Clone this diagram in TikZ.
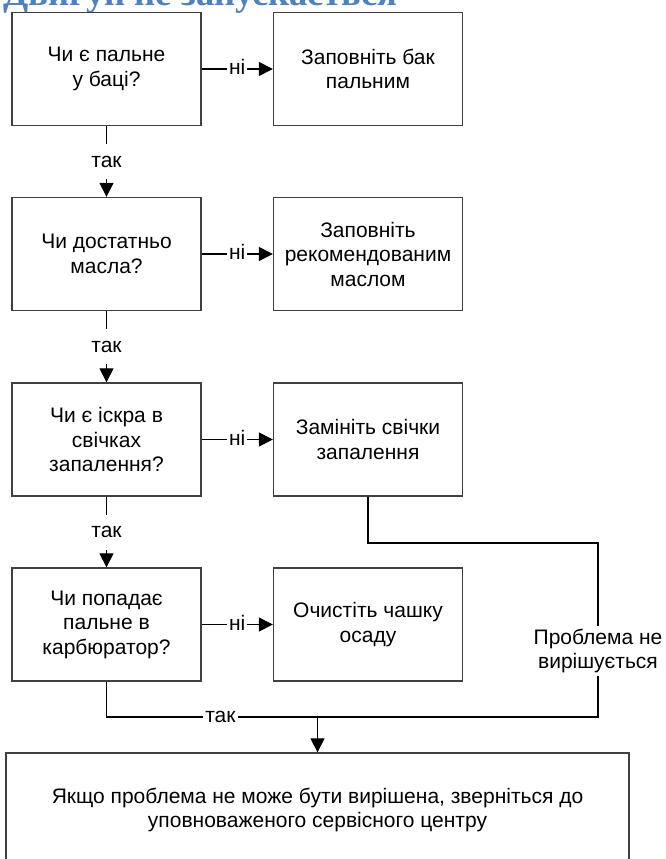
\documentclass[tikz,border=0pt]{standalone}
\usepackage{fontspec}
\usepackage{graphicx}
\setmainfont{Liberation Sans}
\newfontfamily\titlefont{Liberation Serif}
\usetikzlibrary{arrows.meta}
\definecolor{titleblue}{HTML}{4F81BD}
\definecolor{boxline}{HTML}{404040}
\begin{document}
\begin{tikzpicture}[x=1pt,y=-1pt,
  box/.style={draw=boxline, line width=1.3pt, minimum width=189pt, minimum height=113pt,
    align=center, inner sep=0pt, font=\fontsize{21}{24.5}\selectfont},
  conn/.style={draw=black, line width=1.1pt},
  arr/.style={conn, -{Triangle[length=14pt,width=14pt]}},
  lbl/.style={fill=white, font=\fontsize{21}{24.5}\selectfont, inner xsep=2pt, inner ysep=8pt,
    text height=15pt, text depth=4pt},
  lblml/.style={fill=white, font=\fontsize{21}{24.5}\selectfont, inner sep=3pt, align=center}
]
\useasboundingbox (0,0) rectangle (665,859);
\clip (0,0) rectangle (665,859);
\fill[white] (0,0) rectangle (665,859);

\node[anchor=base west, inner sep=0pt, text=titleblue] (title) at (3,5.5)
  {\resizebox{394pt}{!}{\titlefont\bfseries Двигун не запускається}};

\node[box] (q1) at (106.5,69) {Чи є пальне\\у баці?};
\node[box] (a1) at (368,69) {Заповніть бак\\пальним};
\node[box] (q2) at (106.5,254) {Чи достатньо\\масла?};
\node[box] (a2) at (368,254) {Заповніть\\рекомендованим\\маслом};
\node[box] (q3) at (106.5,439.5) {Чи є іскра в\\свічках\\запалення?};
\node[box] (a3) at (368,439.5) {Замініть свічки\\запалення};
\node[box] (q4) at (106.5,624.5) {Чи попадає\\пальне в\\карбюратор?};
\node[box] (a4) at (368,624.5) {Очистіть чашку\\осаду};
\node[box, minimum width=623pt, minimum height=114pt] (fin) at (317.5,810)
  {Якщо проблема не може бути вирішена, зверніться до\\уповноваженого сервісного центру};

\draw[arr] (q1) -- node[lbl]{ні} (a1);
\draw[arr] (q2) -- node[lbl]{ні} (a2);
\draw[arr] (q3) -- node[lbl]{ні} (a3);
\draw[arr] (q4) -- node[lbl]{ні} (a4);

\draw[arr] (q1) -- node[lbl]{так} (q2);
\draw[arr] (q2) -- node[lbl]{так} (q3);
\draw[arr] (q3) -- node[lbl]{так} (q4);

\coordinate (r2) at (598,543);
\coordinate (r3) at (598,717);
\coordinate (j) at (317.5,717);

\draw[conn] (a3.south) |- (r2) -- node[lblml, pos=0.62]{Проблема не\\вирішується} (r3) -- (j);
\draw[conn] (q4.south) |- node[lbl, pos=0.77]{так} (j);
\draw[arr] (j) -- (fin.north);
\end{tikzpicture}
\end{document}
